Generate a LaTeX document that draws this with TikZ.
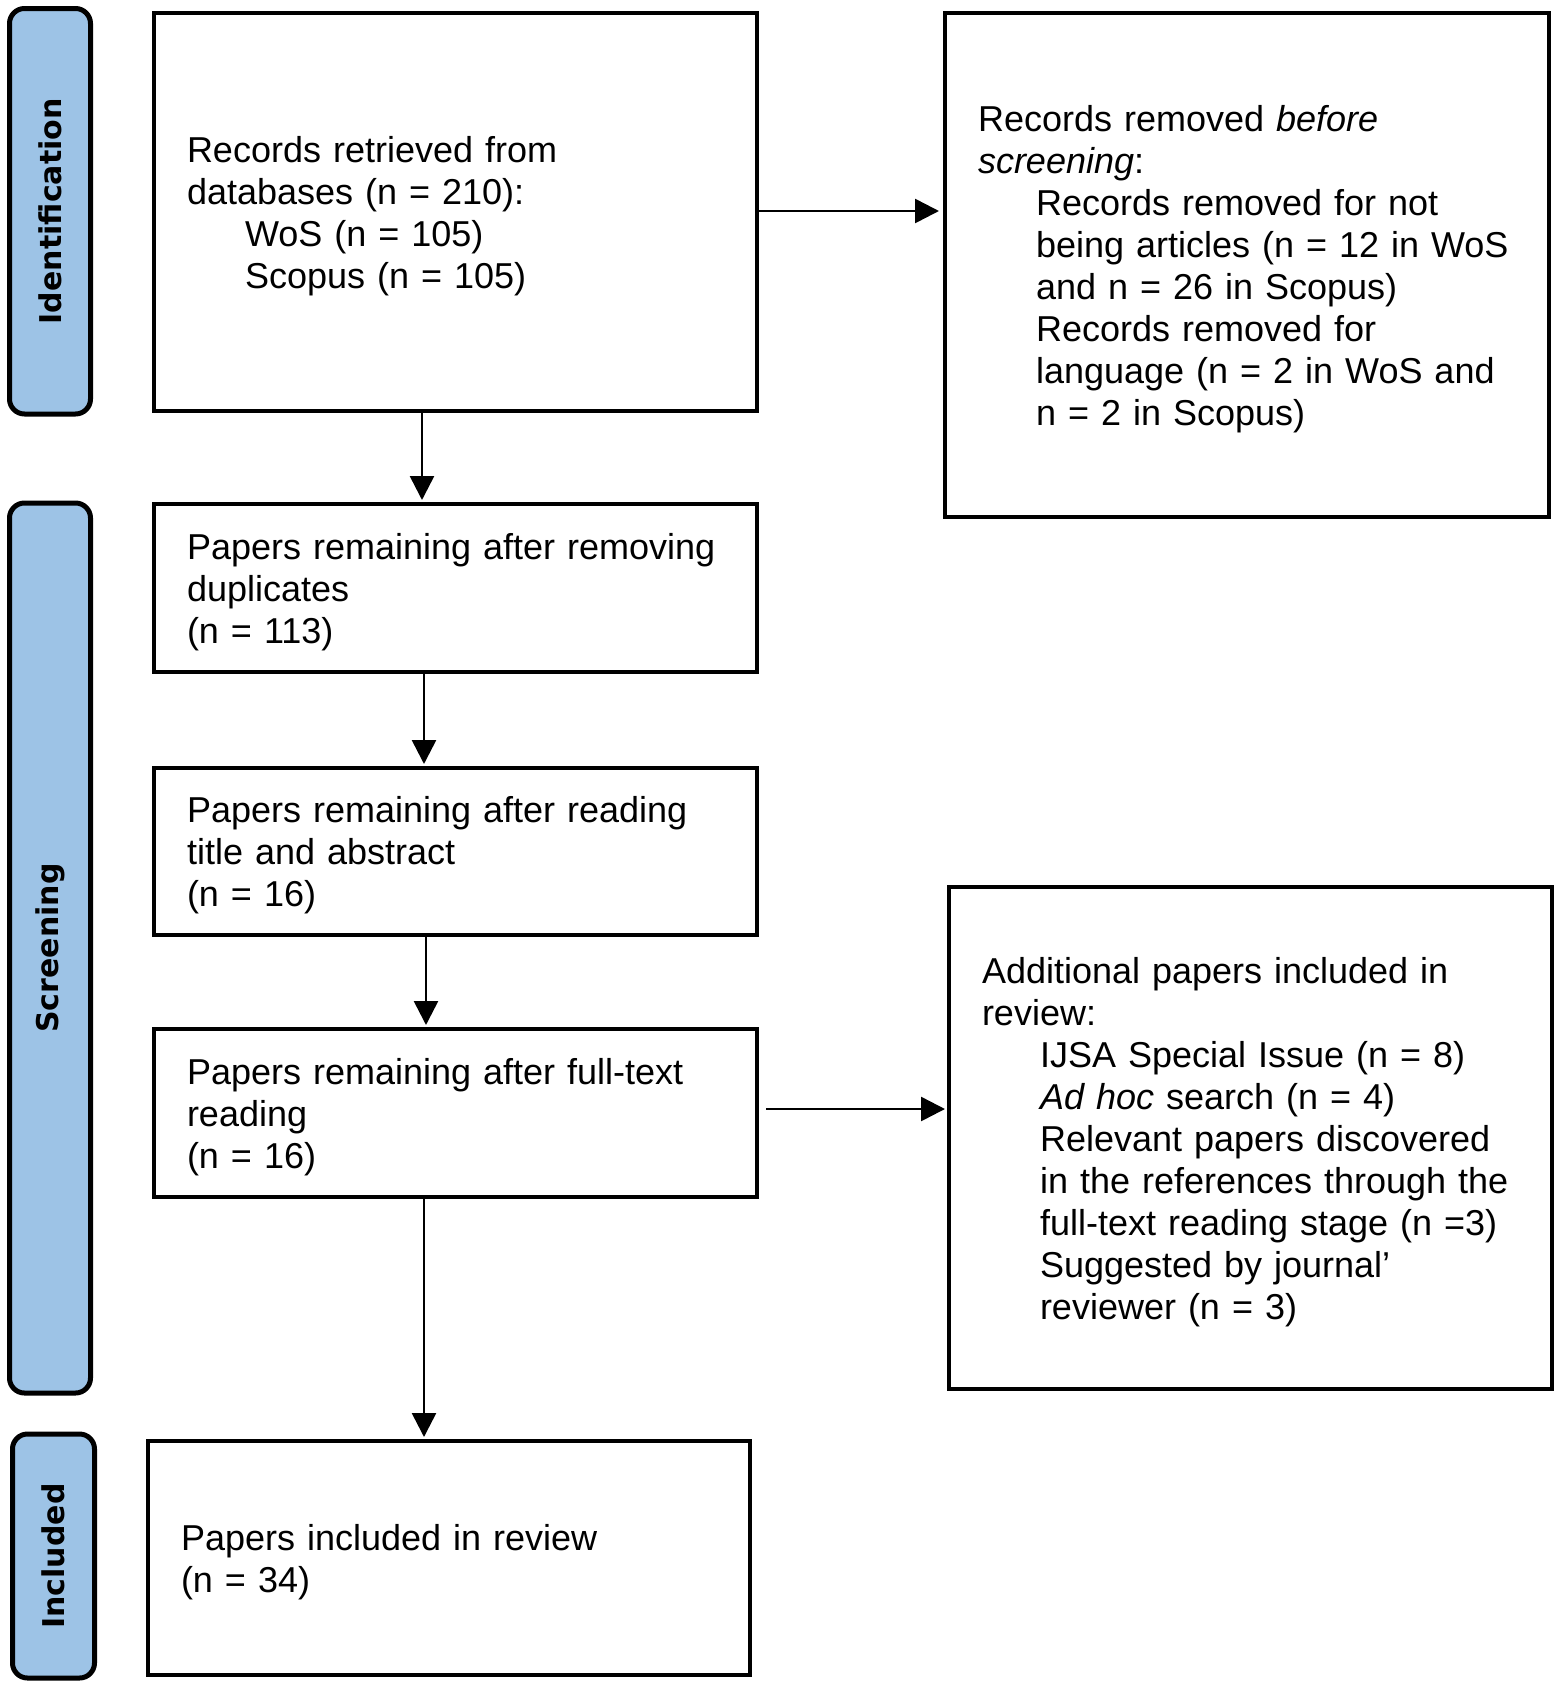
\documentclass[tikz,border=0pt]{standalone}
\usepackage{fontspec}
\usepackage{graphicx}
\setmainfont{Liberation Sans}
\newfontfamily\barfont{DejaVu Sans}
\usetikzlibrary{arrows.meta}
\definecolor{barblue}{HTML}{9DC3E6}
\newcommand{\ind}{\hspace*{29pt}}
\newcommand{\fl}{\rule{0pt}{17.2pt}}
\begin{document}
\begin{tikzpicture}[x=0.5pt,y=-0.5pt,
  bar/.style={draw, fill=barblue, line width=2.5pt, rounded corners=7.5pt,
    anchor=north west, outer sep=0pt, inner sep=0pt,
    font=\barfont\bfseries\fontsize{15}{18}\selectfont},
  box/.style={draw, line width=2.15pt, rectangle, anchor=north west, outer sep=0pt,
    inner xsep=16.5pt, inner ysep=0pt, align=left,
    font=\fontsize{18}{21}\selectfont},
  arr/.style={-{Triangle[length=12pt,width=12pt]}, line width=1.3pt}]
\useasboundingbox (0,0) rectangle (1559,1687);
% phase bars
\node[bar, minimum width=40.5pt, minimum height=202.75pt] (idbar) at (9.5,8.5) {\rotatebox{90}{Identification}};
\node[bar, minimum width=40.5pt, minimum height=445pt] (scbar) at (9.5,503) {\rotatebox{90}{Screening}};
\node[bar, minimum width=41pt, minimum height=122pt] (inbar) at (12.5,1434) {\rotatebox{90}{Included}};
% boxes
\node[box, minimum width=301.5pt, minimum height=199pt, text width=268.5pt] (b1) at (154,13)
  {\fl Records retrieved from\\ databases (n = 210):\\ \ind WoS (n = 105)\\ \ind Scopus (n = 105)};
\node[box, minimum width=302pt, minimum height=252pt, text width=269pt] (r1) at (945,13)
  {\fl Records removed \textit{before}\\ \textit{screening}:\\ \ind Records removed for not\\ \ind being articles (n = 12 in WoS\\ \ind and n = 26 in Scopus)\\ \ind Records removed for\\ \ind language (n = 2 in WoS and\\ \ind n = 2 in Scopus)};
\node[box, minimum width=301.5pt, minimum height=84pt, text width=268.5pt] (b2) at (154,504)
  {\fl Papers remaining after removing\\ duplicates\\ (n = 113)};
\node[box, minimum width=301.5pt, minimum height=83.5pt, text width=268.5pt] (b3) at (154,768)
  {\fl Papers remaining after reading\\ title and abstract\\ (n = 16)};
\node[box, minimum width=301.5pt, minimum height=84pt, text width=268.5pt] (b4) at (154,1029)
  {\fl Papers remaining after full-text\\ reading\\ (n = 16)};
\node[box, minimum width=301.5pt, minimum height=251pt, text width=268.5pt] (r2) at (949,887)
  {\fl Additional papers included in\\ review:\\ \ind IJSA Special Issue (n = 8)\\ \ind \textit{Ad hoc} search (n = 4)\\ \ind Relevant papers discovered\\ \ind in the references through the\\ \ind full-text reading stage (n =3)\\ \ind Suggested by journal’\\ \ind reviewer (n = 3)};
\node[box, minimum width=301pt, minimum height=117pt, text width=268pt] (b5) at (148,1441)
  {\fl Papers included in review\\ (n = 34)};
% arrow guide coordinates
\coordinate (v1) at (422,0);
\coordinate (v2) at (424,0);
\coordinate (v3) at (426,0);
\coordinate (v4) at (424,0);
\coordinate (h1) at (0,211);
\coordinate (h2) at (0,1109);
% connectors
\draw[arr, shorten >=3pt] (b1.east |- h1) -- (r1.west |- h1);
\draw[arr, shorten >=2pt] (b1.south -| v1) -- (b2.north -| v1);
\draw[arr, shorten >=2pt] (b2.south -| v2) -- (b3.north -| v2);
\draw[arr, shorten >=2pt] (b3.south -| v3) -- (b4.north -| v3);
\draw[arr, shorten >=2pt] (b4.south -| v4) -- (b5.north -| v4);
\draw[arr, shorten <=4.5pt, shorten >=2pt] (b4.east |- h2) -- (r2.west |- h2);
\end{tikzpicture}
\end{document}
